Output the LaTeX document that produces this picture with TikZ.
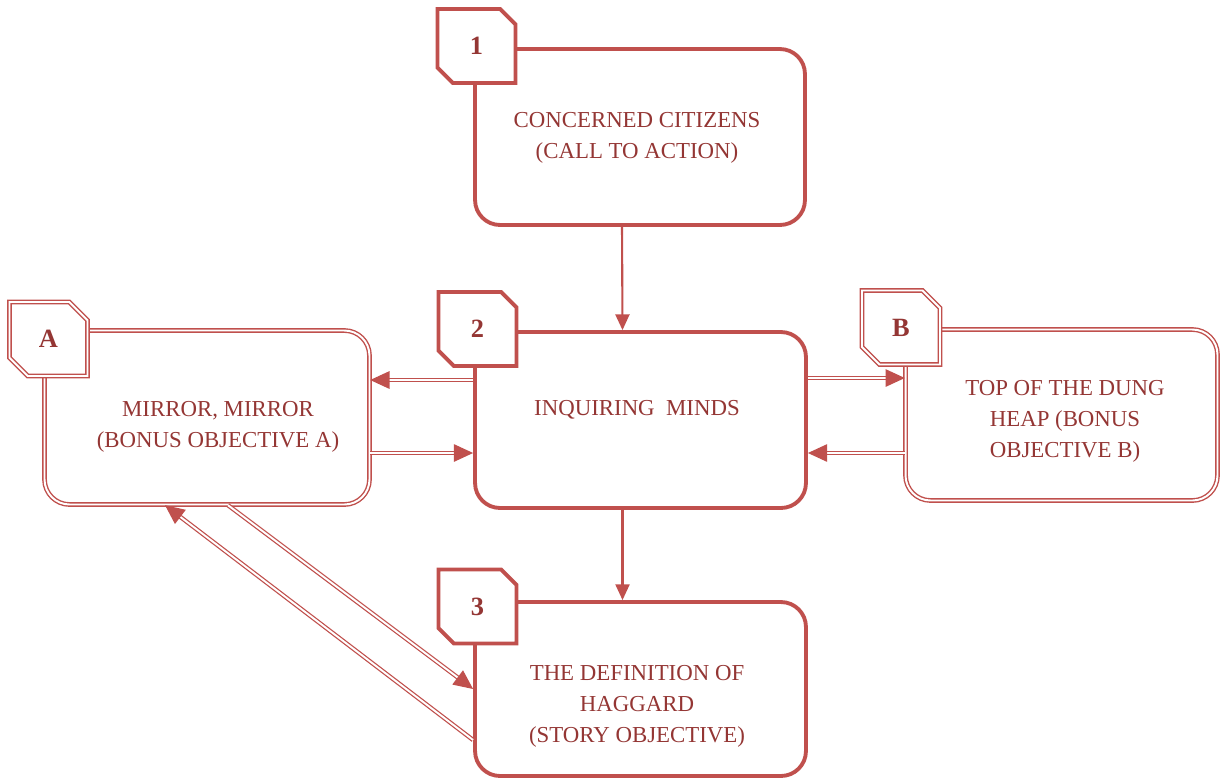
\documentclass[tikz,border=0pt]{standalone}
\usepackage{fontspec}
\setmainfont{Liberation Serif}
\usetikzlibrary{arrows.meta}
\usetikzlibrary{shapes.misc}
\definecolor{boxred}{HTML}{C0504D}
\definecolor{textred}{HTML}{943634}

\begin{document}
\begin{tikzpicture}[x = 0.02cm, y = -0.02cm,
    mainbox/.style = {draw=boxred, line width=2.2pt, rounded corners=0.5cm, fill=white},
    sidebox/.style = {draw=boxred, double=white, double distance=1.1pt, line width=0.8pt, rounded corners=0.5cm},
    tagbox/.style = {chamfered rectangle, chamfered rectangle corners={north east,south west},
        chamfered rectangle xsep=0.3cm, chamfered rectangle ysep=0.3cm, fill=white,
        minimum width=1.56cm, minimum height=1.48cm, inner sep=0pt,
        text=textred, font=\bfseries\fontsize{15}{15}\selectfont},
    boxtext/.style = {text=textred, align=center, font=\fontsize{13}{17.6}\selectfont},
    onearrow/.style = {draw=boxred, line width=1.2pt, -{Triangle[length=9pt, width=8pt]}},
    twoarrow/.style = {draw=boxred, double=white, double distance=1.1pt, line width=0.7pt,
        -{Triangle[length=11pt, width=10pt]}}]
    \useasboundingbox (0,0) rectangle (1222,782);

    % the five boxes
    \node[mainbox, minimum width=6.6cm, minimum height=3.52cm] (citizens) at (640,137) {};
    \node[mainbox, minimum width=6.62cm, minimum height=3.52cm] (minds) at (640.5,420) {};
    \node[mainbox, minimum width=6.62cm, minimum height=3.48cm] (haggard) at (640.5,689) {};
    \node[sidebox, minimum width=6.5cm, minimum height=3.48cm] (mirror) at (207,417.5) {};
    \node[sidebox, minimum width=6.24cm, minimum height=3.42cm] (dung) at (1061.5,415) {};

    \node[boxtext] (citizenstext) at (637,138) {CONCERNED CITIZENS\\(CALL TO ACTION)};
    \node[boxtext] (mindstext) at (637,410) {INQUIRING\ \ MINDS};
    \node[boxtext] (haggardtext) at (637,706) {THE DEFINITION OF\\HAGGARD\\(STORY OBJECTIVE)};
    \node[boxtext] (mirrortext) at (218,427) {MIRROR, MIRROR\\(BONUS OBJECTIVE A)};
    \node[boxtext] (dungtext) at (1065,421) {TOP OF THE DUNG\\HEAP (BONUS\\OBJECTIVE B)};

    % tags
    \node[tagbox, draw=boxred, line width=2.2pt] (tag1) at (476.5,46) {1};
    \node[tagbox, draw=boxred, line width=2.2pt] (tag2) at (477.5,329) {2};
    \node[tagbox, draw=boxred, line width=2.2pt] (tag3) at (477.5,606.5) {3};
    \node[tagbox, draw=boxred, double=white, double distance=1.1pt, line width=0.8pt] (tagA) at (48.5,339) {A};
    \node[tagbox, draw=boxred, double=white, double distance=1.1pt, line width=0.8pt] (tagB) at (901,327.5) {B};

    % connectors
    \draw[onearrow] ([xshift=-0.36cm]citizens.south) -- ([xshift=-0.36cm]minds.north);
    \draw[onearrow] ([xshift=-0.36cm]minds.south) -- ([xshift=-0.36cm]haggard.north);
    \draw[twoarrow] ([yshift=0.8cm]minds.west) -- ([yshift=0.8cm]minds.west -| mirror.east);
    \draw[twoarrow] ([yshift=-0.71cm]mirror.east) -- ([yshift=-0.71cm]mirror.east -| minds.west);
    \draw[twoarrow] ([yshift=0.84cm]minds.east) -- ([yshift=0.84cm]minds.east -| dung.west);
    \draw[twoarrow] ([yshift=-0.76cm]dung.west) -- ([yshift=-0.76cm]dung.west -| minds.east);
    \draw[twoarrow] ([xshift=0.42cm]mirror.south) -- (haggard.west);
    \draw[twoarrow] ([yshift=-1.02cm]haggard.west) -- ([xshift=-0.84cm]mirror.south);
\end{tikzpicture}
\end{document}
